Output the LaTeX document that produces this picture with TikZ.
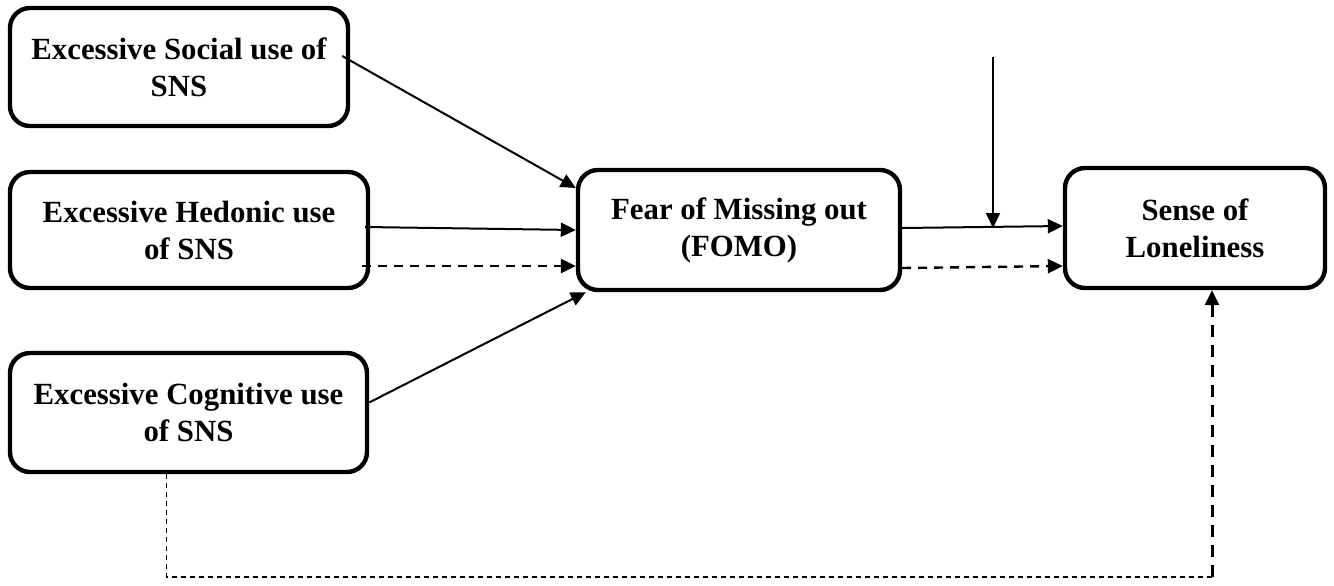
\documentclass[tikz,border=0pt]{standalone}
\usepackage{fontspec}
\setmainfont{Liberation Serif}
\usepackage{tikz}
\usetikzlibrary{arrows.meta}

\tikzset{
    factor/.style={draw, line width=2.2pt, rounded corners=10pt, align=center,
        font=\fontsize{15.4pt}{18.5pt}\selectfont\bfseries},
    link/.style={line width=1pt, -{Triangle[length=7.5pt,width=7pt]}},
    dlink/.style={line width=1.2pt, dash pattern=on 4.5pt off 3.5pt, -{Triangle[length=7.5pt,width=7pt]}},
    vlink/.style={line width=1.5pt, dash pattern=on 6pt off 4pt, -{Triangle[length=7.5pt,width=7pt]}},
    thinlink/.style={line width=0.6pt, dash pattern=on 2.5pt off 2pt}
}

\begin{document}
\begin{tikzpicture}[x=0.5pt, y=-0.5pt]
    \useasboundingbox (0,0) rectangle (1334,585);
    \node[factor, minimum width=169pt, minimum height=59pt] (social) at (179,67) {Excessive Social use of\\SNS};
    \node[factor, minimum width=179pt, minimum height=58pt] (hedonic) at (189,230) {Excessive Hedonic use\\of SNS};
    \node[factor, minimum width=178.5pt, minimum height=59.5pt] (cognitive) at (188.5,412.5) {Excessive Cognitive use\\of SNS};
    \node[factor, minimum width=161pt, minimum height=60pt] (fomo) at (739,230) {Fear of Missing out\\(FOMO)};
    \node[factor, minimum width=130pt, minimum height=60pt] (lonely) at (1195,228) {Sense of\\Loneliness};
    \coordinate (moderator) at (993,57);
    \coordinate (turn) at (1212,577);

    \draw[link] ([xshift=-4pt,yshift=5.5pt]social.east) -- ([yshift=21pt]fomo.west);
    \draw[link] ([xshift=-2.5pt,yshift=1.5pt]hedonic.east) -- (fomo.west);
    \draw[dlink] ([xshift=-4pt,yshift=-18pt]hedonic.east) -- ([yshift=-18pt]fomo.west);
    \draw[link] ([yshift=5pt]cognitive.east) -- ([xshift=5pt]fomo.south west);
    \draw[link] ([yshift=1pt]fomo.east) -- ([yshift=1pt]lonely.west);
    \draw[link] (moderator) -- (moderator |- lonely.west);
    \draw[dlink] ([yshift=-19pt]fomo.east) -- ([yshift=-19pt]lonely.west);
    \draw[thinlink] ([xshift=-11pt]cognitive.south) |- (turn);
    \draw[vlink] (turn) -- ([xshift=8.5pt]lonely.south);
\end{tikzpicture}
\end{document}
